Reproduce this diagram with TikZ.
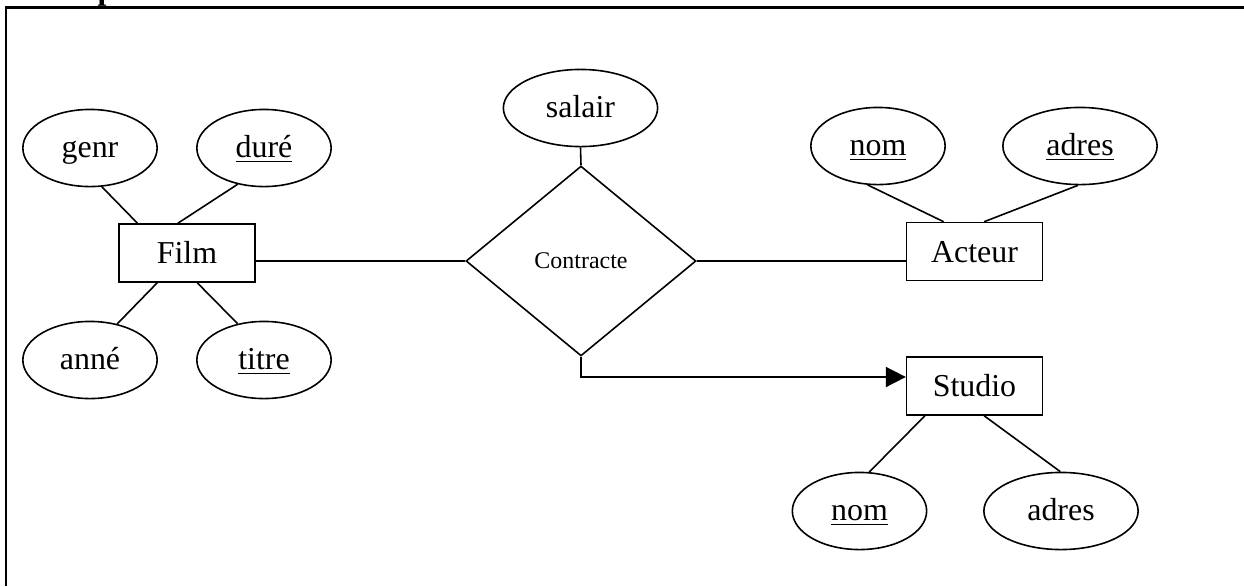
\documentclass[tikz,border=0pt]{standalone}
\usepackage{fontspec}
\setmainfont{Liberation Serif}
\usetikzlibrary{shapes.geometric,arrows.meta,calc}

\begin{document}
\begin{tikzpicture}[x=0.376pt,y=-0.376pt,
  every node/.style={font=\fontsize{12}{14}\selectfont},
  link/.style={line width=0.6pt},
  entity/.style={draw,line width=0.6pt,rectangle,inner sep=0pt,
    text height=8.5pt,text depth=0.5pt,
    minimum width=51pt,minimum height=21.8pt},
  attr/.style={draw,line width=0.6pt,ellipse,inner sep=0pt,
    text height=8.5pt,text depth=1.5pt,
    minimum width=50.5pt,minimum height=29pt},
  wideattr/.style={attr,minimum width=58pt},
  relation/.style={draw,line width=0.6pt,diamond,inner sep=0pt,
    minimum width=86.5pt,minimum height=71.4pt,
    font=\fontsize{9}{11}\selectfont},
  frameline/.style={line width=0.9pt},
  arr/.style={line width=0.6pt,-{Triangle[length=7.5pt,width=7.5pt]}}]

\useasboundingbox (0,0) rectangle (1244,586);

% heading line, only its lowest part falls on the page
\begin{scope}
  \clip (0,0) rectangle (1244,586);
  \node[anchor=base west,inner sep=0pt,font=\fontsize{12}{14}\selectfont\bfseries]
    (heading) at (19,-1) {Exemple d'association ternaire :};
\end{scope}

% frame
\coordinate (fbl) at (6,586);
\coordinate (ftl) at (6,7.5);
\coordinate (ftr) at (1244,7.5);
\draw[frameline] (fbl) -- (ftl) -- (ftr);

% entities
\node[entity] (Film)   at (187,253)   {Film};
\node[entity] (Acteur) at (974.5,251.5) {Acteur};
\node[entity] (Studio) at (974.5,386) {Studio};

% relationship
\node[relation] (C) at (581,261) {Contracte};

% attributes
\node[attr] (genr)  at (90,148)  {genr};
\node[attr] (dure)  at (264,148) {\underline{duré}};
\node[attr] (anne)  at (90,360)  {anné};
\node[attr] (titre) at (264,360) {\underline{titre}};
\node[wideattr] (salair) at (580.5,108) {salair};
\node[attr] (anom)   at (878,146)  {\underline{nom}};
\node[wideattr] (aadres) at (1080,146) {\underline{adres}};
\node[attr] (snom)   at (859.5,511) {\underline{nom}};
\node[wideattr] (sadres) at (1061,511) {adres};

% attribute links
\draw[link] (genr.-73)   -- (Film.149);
\draw[link] (dure.-126)  -- (Film.107);
\draw[link] (anne.53)    -- (Film.-135);
\draw[link] (titre.126)  -- (Film.-71);
\draw[link] (salair.south) -- (C.north);
\draw[link] (anom.-105)  -- (Acteur.136);
\draw[link] (aadres.-93) -- (Acteur.72);
\draw[link] (snom.76)    -- (Studio.-149);
\draw[link] (sadres.91)  -- (Studio.-72);

% relationship links
\draw[link] (C.west -| Film.east) -- (C.west);
\draw[link] (C.east) -- (C.east -| Acteur.west);
\coordinate (sin) at ($(Studio.west)+(0,-9)$);
\draw[arr] (C.south) |- (sin);

\end{tikzpicture}
\end{document}
